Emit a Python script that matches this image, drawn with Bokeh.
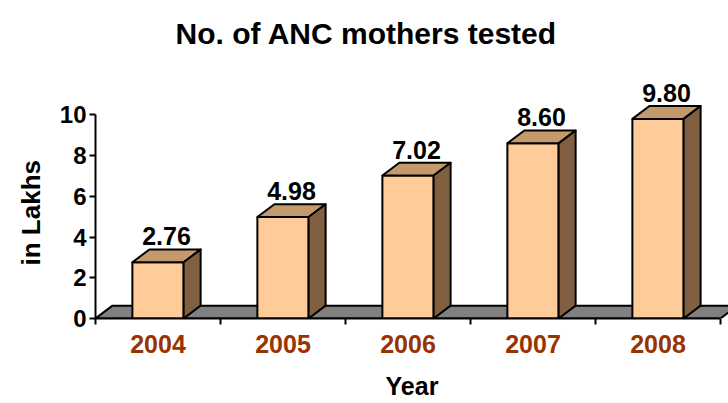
import numpy as np
from bokeh.plotting import figure
from bokeh.models import FixedTicker, Range1d, Title
from bokeh.embed import file_html
from bokeh.resources import INLINE
from bokeh.core.properties import value

# ---- data ----
years = ["2004", "2005", "2006", "2007", "2008"]
tested = [2.76, 4.98, 7.02, 8.60, 9.80]
value_labels = ["2.76", "4.98", "7.02", "8.60", "9.80"]
y_ticks = [0, 2, 4, 6, 8, 10]

# ---- style ----
FONT = "Liberation Sans"
FRONT = "#FFCC99"
TOP = "#C49A6C"
SIDE = "#806040"
FLOOR = "#808080"
BAR_W = 0.41
DX = 0.136
DY = 0.63
LABEL_PAD = 0.2

n = len(years)
centers = np.arange(n) + 0.5
vals = np.array(tested)
left = centers - BAR_W / 2
right = centers + BAR_W / 2

p = figure(width=728, height=403, x_range=Range1d(0, n + 0.064), y_range=Range1d(0, 12.52),
           output_backend="svg", toolbar_location=None,
           min_border_left=95, min_border_right=0, min_border_top=60, min_border_bottom=85)
p.grid.visible = False
p.outline_line_color = None
p.background_fill_color = "white"
p.border_fill_color = "white"

# floor
p.patch([0, n, n + DX, DX], [0, 0, DY, DY], fill_color=FLOOR, line_color="black", line_width=2)

# bars
p.quad(left=left, right=right, bottom=0, top=vals, fill_color=FRONT, line_color="black", line_width=2)
top_xs = [[l, r, r + DX, l + DX] for l, r in zip(left, right)]
top_ys = [[v, v, v + DY, v + DY] for v in vals]
p.patches(top_xs, top_ys, fill_color=TOP, line_color="black", line_width=2, line_join="round")
side_xs = [[r, r + DX, r + DX, r] for r in right]
side_ys = [[0, DY, v + DY, v] for v in vals]
p.patches(side_xs, side_ys, fill_color=SIDE, line_color="black", line_width=2, line_join="round")

# value labels
p.text(x=centers + DX / 2, y=vals + DY + LABEL_PAD, text=value_labels,
       text_font=value(FONT), text_font_style="bold", text_font_size="25px",
       text_align="center", text_baseline="bottom", text_color="black")

# title
p.title.text = "No. of ANC mothers tested"
p.title.text_font = FONT
p.title.text_font_style = "bold"
p.title.text_font_size = "30px"
p.title.text_color = "black"
p.title.align = "left"
p.title.offset = 80
p.title.standoff = 28

# y axis
ya = p.yaxis[0]
ya.ticker = FixedTicker(ticks=y_ticks)
ya.bounds = (y_ticks[0], y_ticks[-1])
ya.axis_line_width = 2
ya.major_tick_line_width = 2
ya.major_tick_out = 6
ya.major_tick_in = 0
ya.minor_tick_out = 0
ya.minor_tick_in = 0
ya.major_label_text_font = FONT
ya.major_label_text_font_style = "bold"
ya.major_label_text_font_size = "24px"
ya.major_label_text_color = "black"
ya.major_label_standoff = 3

p.add_layout(Title(text="in Lakhs", align="left", offset=53, standoff=21,
                   text_font=FONT, text_font_style="bold", text_font_size="26px",
                   text_color="black"), "left")

# x axis
xa = p.xaxis[0]
xa.ticker = FixedTicker(ticks=list(centers), minor_ticks=list(range(0, n + 1)))
xa.major_label_overrides = {float(c): y for c, y in zip(centers, years)}
xa.bounds = (0, n)
xa.axis_line_width = 2
xa.major_tick_line_color = None
xa.major_tick_out = 0
xa.major_tick_in = 0
xa.minor_tick_line_color = "black"
xa.minor_tick_line_width = 2
xa.minor_tick_out = 6
xa.minor_tick_in = 0
xa.major_label_text_font = FONT
xa.major_label_text_font_style = "bold"
xa.major_label_text_font_size = "25px"
xa.major_label_text_color = "#993300"
xa.major_label_standoff = 10
xa.axis_label = "Year"
xa.axis_label_text_font = FONT
xa.axis_label_text_font_style = "bold"
xa.axis_label_text_font_size = "25px"
xa.axis_label_text_color = "black"
xa.axis_label_standoff = 16

open("out.html", "w").write(file_html(p, INLINE))
